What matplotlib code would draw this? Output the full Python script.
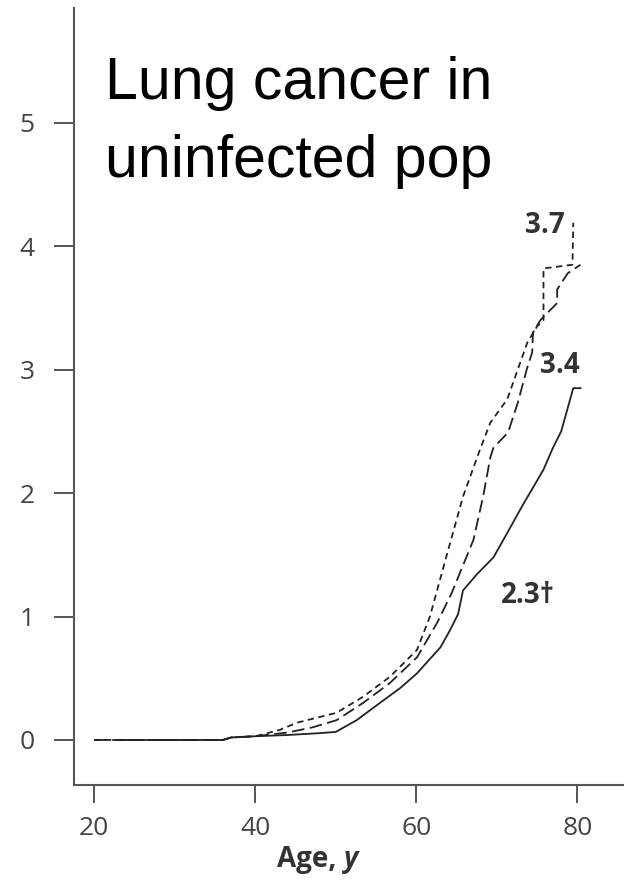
import matplotlib.pyplot as plt

plt.rcParams['font.family'] = ['Open Sans', 'DejaVu Sans']

# cumulative incidence (%)
age_solid = [23, 30, 36, 37, 40, 44, 48, 50, 52.6, 55.9, 58, 60.1, 63.0, 64.2, 65.2, 65.8,
             67.5, 69.6, 71.5, 73.2, 75.0, 75.8, 77.0, 78.0, 79.5, 80.4]
inc_solid = [0, 0, 0, 0.02, 0.03, 0.04, 0.055, 0.065, 0.16, 0.32, 0.42, 0.54, 0.75, 0.89, 1.02,
             1.21, 1.34, 1.48, 1.70, 1.90, 2.10, 2.19, 2.37, 2.50, 2.85, 2.85]

age_dash = [20, 30, 36, 37, 40, 44, 47, 50.1, 53.4, 56.7, 60.1, 62.6, 64.4, 67.1, 68.3, 69.2,
            69.6, 71.4, 72.6, 73.8, 74.4, 74.5, 75.4, 77.5, 77.5, 78.8, 80.4]
inc_dash = [0, 0, 0, 0.02, 0.03, 0.06, 0.10, 0.16, 0.30, 0.46, 0.67, 0.95, 1.19, 1.62, 1.97, 2.29,
            2.37, 2.49, 2.73, 3.02, 3.14, 3.30, 3.40, 3.54, 3.65, 3.78, 3.85]

age_dot = [20, 30, 36, 37, 40, 43, 45.2, 50.1, 53.4, 56.7, 60.1, 61.7, 63.8, 65.8, 67.9, 69.2,
           71.3, 72.6, 73.8, 75.0, 75.8, 75.8, 79.4, 79.5]
inc_dot = [0, 0, 0, 0.02, 0.03, 0.08, 0.14, 0.22, 0.35, 0.51, 0.73, 1.0, 1.50, 1.97, 2.35, 2.57,
           2.76, 3.00, 3.22, 3.35, 3.40, 3.82, 3.85, 4.19]

yticks = [0, 1, 2, 3, 4, 5]
xticks = [20, 40, 60, 80]

fig = plt.figure(figsize=(6.24, 8.81), dpi=100)
ax = fig.add_axes([74 / 624, 1 - 785 / 881, 550 / 624, 777 / 881])

lc = '#222222'
ax.plot(age_solid, inc_solid, color=lc, lw=1.3)
ax.plot(age_dash, inc_dash, color=lc, lw=1.3, dashes=(7, 3))
ax.plot(age_dot, inc_dot, color=lc, lw=1.3, dashes=(3.5, 2.5))

ax.text(76.0, 4.17, '3.7', ha='center', va='center', fontsize=20, fontweight='bold', color='#333333')
ax.text(77.8, 3.03, '3.4', ha='center', va='center', fontsize=20, fontweight='bold', color='#333333')
ax.text(73.9, 1.17, '2.3\u2020', ha='center', va='center', fontsize=20, fontweight='bold', color='#333333')

ax.set_xlim(17.5, 85.8)
ax.set_ylim(-0.365, 5.93)
ax.set_xticks(xticks)
ax.set_yticks(yticks)

for s in ['top', 'right']:
    ax.spines[s].set_visible(False)
for s in ['left', 'bottom']:
    ax.spines[s].set_color('#555555')
    ax.spines[s].set_linewidth(1.5)

ax.tick_params(axis='y', length=14.5, width=1.4, color='#555555', pad=14,
               labelsize=19, labelcolor='#444444')
ax.tick_params(axis='x', length=13, width=1.4, color='#555555', pad=9,
               labelsize=19, labelcolor='#444444')

# axis title, "y" in italics
fig.text(344 / 624, 1 - 867 / 881, 'Age, ', ha='right', va='baseline', fontsize=20,
         fontweight='bold', color='#333333')
fig.text(344 / 624, 1 - 867 / 881, 'y', ha='left', va='baseline', fontsize=20,
         fontweight='bold', style='italic', color='#333333')

fig.text(105 / 624, 1 - 99 / 881, 'Lung cancer in', ha='left', va='baseline',
         fontsize=42.5, family='Liberation Sans', color='black')
fig.text(105 / 624, 1 - 177 / 881, 'uninfected pop', ha='left', va='baseline',
         fontsize=42.5, family='Liberation Sans', color='black')

fig.savefig('out.png', dpi=100)
